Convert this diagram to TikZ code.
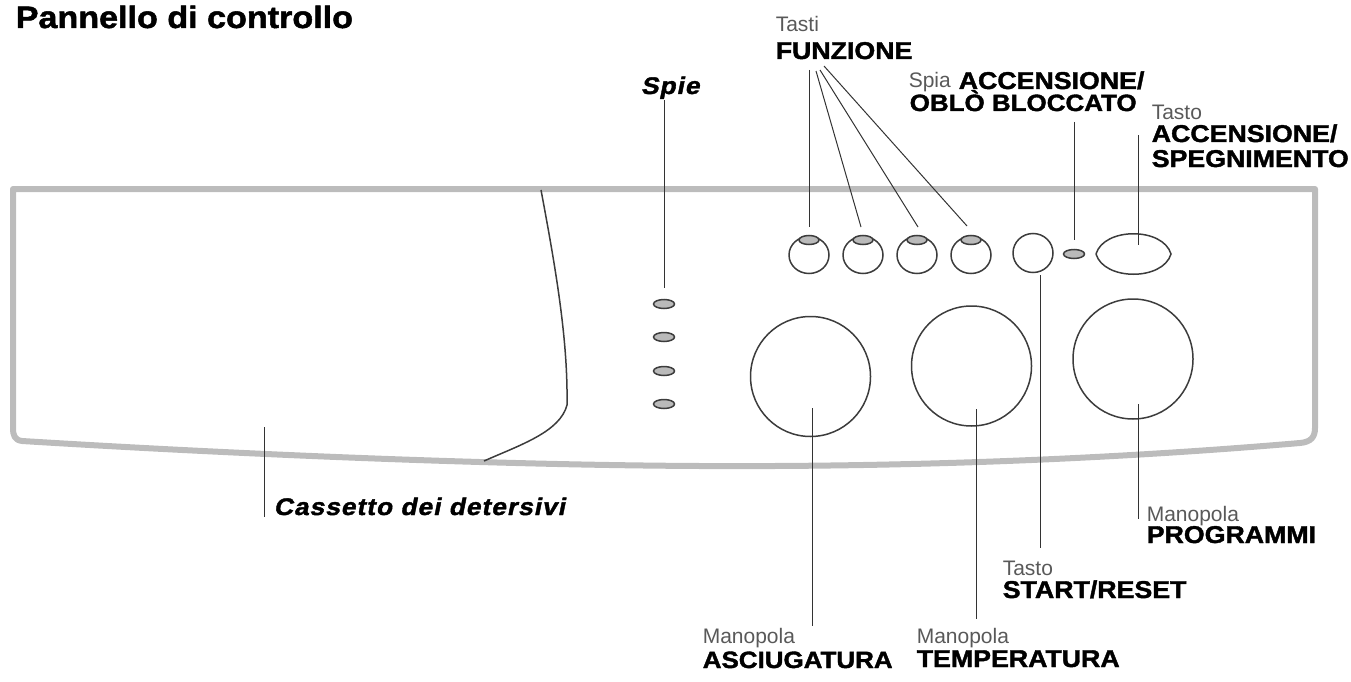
\documentclass[tikz,border=0pt]{standalone}
\usepackage{fontspec}
\setmainfont{Liberation Sans}
\newfontfamily\heavyfont[FakeStretch=1.1,FakeBold=1.6]{Liberation Sans Bold}
\newfontfamily\heavyslant[FakeStretch=1.1,FakeBold=1.6,FakeSlant=0.2,LetterSpace=4]{Liberation Sans Bold}
\usetikzlibrary{shapes.geometric}
\definecolor{panelgray}{RGB}{188,188,188}
\definecolor{ledgray}{RGB}{186,186,186}
\definecolor{edgegray}{RGB}{60,60,60}
\begin{document}
\begin{tikzpicture}[x=1pt,y=-1pt,line width=1.5pt]
\tikzstyle{knob}=[draw=edgegray, circle, inner sep=0pt, minimum size=120pt]
\tikzstyle{tasto}=[draw=edgegray, ellipse, inner sep=0pt, minimum width=40pt, minimum height=37pt]
\tikzstyle{led}=[draw=edgegray, fill=ledgray, ellipse, inner sep=0pt, minimum width=21pt, minimum height=9pt]
\tikzstyle{thin}=[anchor=base west, inner sep=0pt, font=\fontsize{21}{21}\selectfont, text=black!65]
\tikzstyle{heavy}=[anchor=base west, inner sep=0pt, font=\fontsize{24.3}{24.3}\heavyfont]
\tikzstyle{heavysmall}=[anchor=base west, inner sep=0pt, font=\fontsize{23.6}{23.6}\heavyfont]
\tikzstyle{leader}=[draw=black!80, line width=1pt]
\useasboundingbox (0,0) rectangle (1351,682);

% pannello
\draw[panelgray, line width=6pt, line join=round]
    (541,189) -- (1315,189) -- (1315,428)
    .. controls (1315,437) and (1311,442) .. (1300,443)
    .. controls (1100,460) and (900,467) .. (700,466)
    .. controls (500,465) and (250,455) .. (22,441)
    .. controls (15,440) and (13,436) .. (13,428)
    -- (13,189) -- (541,189);
\draw[edgegray] (541,190) .. controls (556,270) and (568,340) .. (567,405)
    .. controls (560,432) and (520,445) .. (484,461);

% tasti
\node[tasto] (F1) at (809,255) {};
\node[tasto] (F2) at (863,255) {};
\node[tasto] (F3) at (917,255) {};
\node[tasto] (F4) at (971,255) {};
\node[led, minimum width=20pt] (L1) at (809,240) {};
\node[led, minimum width=20pt] (L2) at (863,240) {};
\node[led, minimum width=20pt] (L3) at (917,240) {};
\node[led, minimum width=20pt] (L4) at (971,240) {};
\node[tasto, minimum height=39pt] (START) at (1033,253) {};
\node[led] (SPIA) at (1074,254) {};
\draw[edgegray] (1096,254) .. controls (1104,227) and (1163,227) .. (1171,254)
    .. controls (1163,281) and (1104,281) .. (1096,254);
\coordinate (ONOFF) at (1138,245);

% spie
\node[led] (S1) at (664,304) {};
\node[led] (S2) at (664,337) {};
\node[led] (S3) at (664,371) {};
\node[led] (S4) at (664,404) {};

% manopole
\node[knob] (ASC) at (810.5,376.5) {};
\node[knob] (TEMP) at (971.5,366) {};
\node[knob] (PROG) at (1133,359) {};
\coordinate (ASCin) at (812,408);
\coordinate (TEMPin) at (976,409);
\coordinate (PROGin) at (1138,404);

% testi
\node[heavy, font=\fontsize{31}{31}\heavyfont] (title) at (15,28) {Pannello di controllo};
\node[thin] (tasti) at (775,32) {Tasti};
\node[heavy] (funz) at (775,59) {FUNZIONE};
\node[heavy, font=\fontsize{24}{24}\heavyslant] (spie) at (640,94) {Spie};
\node[thin] (spia) at (908,88) {Spia};
\node[heavy] (acc1) at (958,89) {ACCENSIONE/};
\node[heavysmall] (oblo) at (909,111) {OBLÒ BLOCCATO};
\node[thin] (tasto1) at (1151,120) {Tasto};
\node[heavy] (acc2) at (1151,142) {ACCENSIONE/};
\node[heavy] (spegn) at (1151,167) {SPEGNIMENTO};
\node[heavy, font=\fontsize{24}{24}\heavyslant] (cass) at (273,515) {Cassetto dei detersivi};
\node[thin] (man1) at (702,643) {Manopola};
\node[heavysmall] (asci) at (702,668) {ASCIUGATURA};
\node[thin] (man2) at (916,643) {Manopola};
\node[heavy] (temper) at (916,667) {TEMPERATURA};
\node[thin] (tasto2) at (1002,575) {Tasto};
\node[heavy] (start) at (1002,598) {START/RESET};
\node[thin] (man3) at (1146,521) {Manopola};
\node[heavy] (progr) at (1146,543) {PROGRAMMI};

% estremi liberi
\coordinate (f1) at (809,70);
\coordinate (f2) at (816,71);
\coordinate (f3) at (820,70);
\coordinate (f4) at (824,66);
\coordinate (f1e) at (809,227);
\coordinate (f2e) at (861,227);
\coordinate (f3e) at (918,227);
\coordinate (f4e) at (967,226);
\coordinate (sp) at (664,100);
\coordinate (spe) at (664,288);
\coordinate (sa) at (1074,122);
\coordinate (sae) at (1074,240);
\coordinate (on) at (1138,135);
\coordinate (stb) at (1040,275);
\coordinate (ste) at (1040,548);
\coordinate (ca) at (264,427);
\coordinate (cae) at (264,517);
\coordinate (ase) at (812,626);
\coordinate (tee) at (976,619);
\coordinate (pre) at (1138,519);

% linee
\draw[leader] (f1) -- (f1e);
\draw[leader] (f2) -- (f2e);
\draw[leader] (f3) -- (f3e);
\draw[leader] (f4) -- (f4e);
\draw[leader] (sp) -- (spe);
\draw[leader] (sa) -- (sae);
\draw[leader] (on) -- (ONOFF);
\draw[leader] (stb) -- (ste);
\draw[leader] (ca) -- (cae);
\draw[leader] (ASCin) -- (ase);
\draw[leader] (TEMPin) -- (tee);
\draw[leader] (PROGin) -- (pre);
\end{tikzpicture}
\end{document}
